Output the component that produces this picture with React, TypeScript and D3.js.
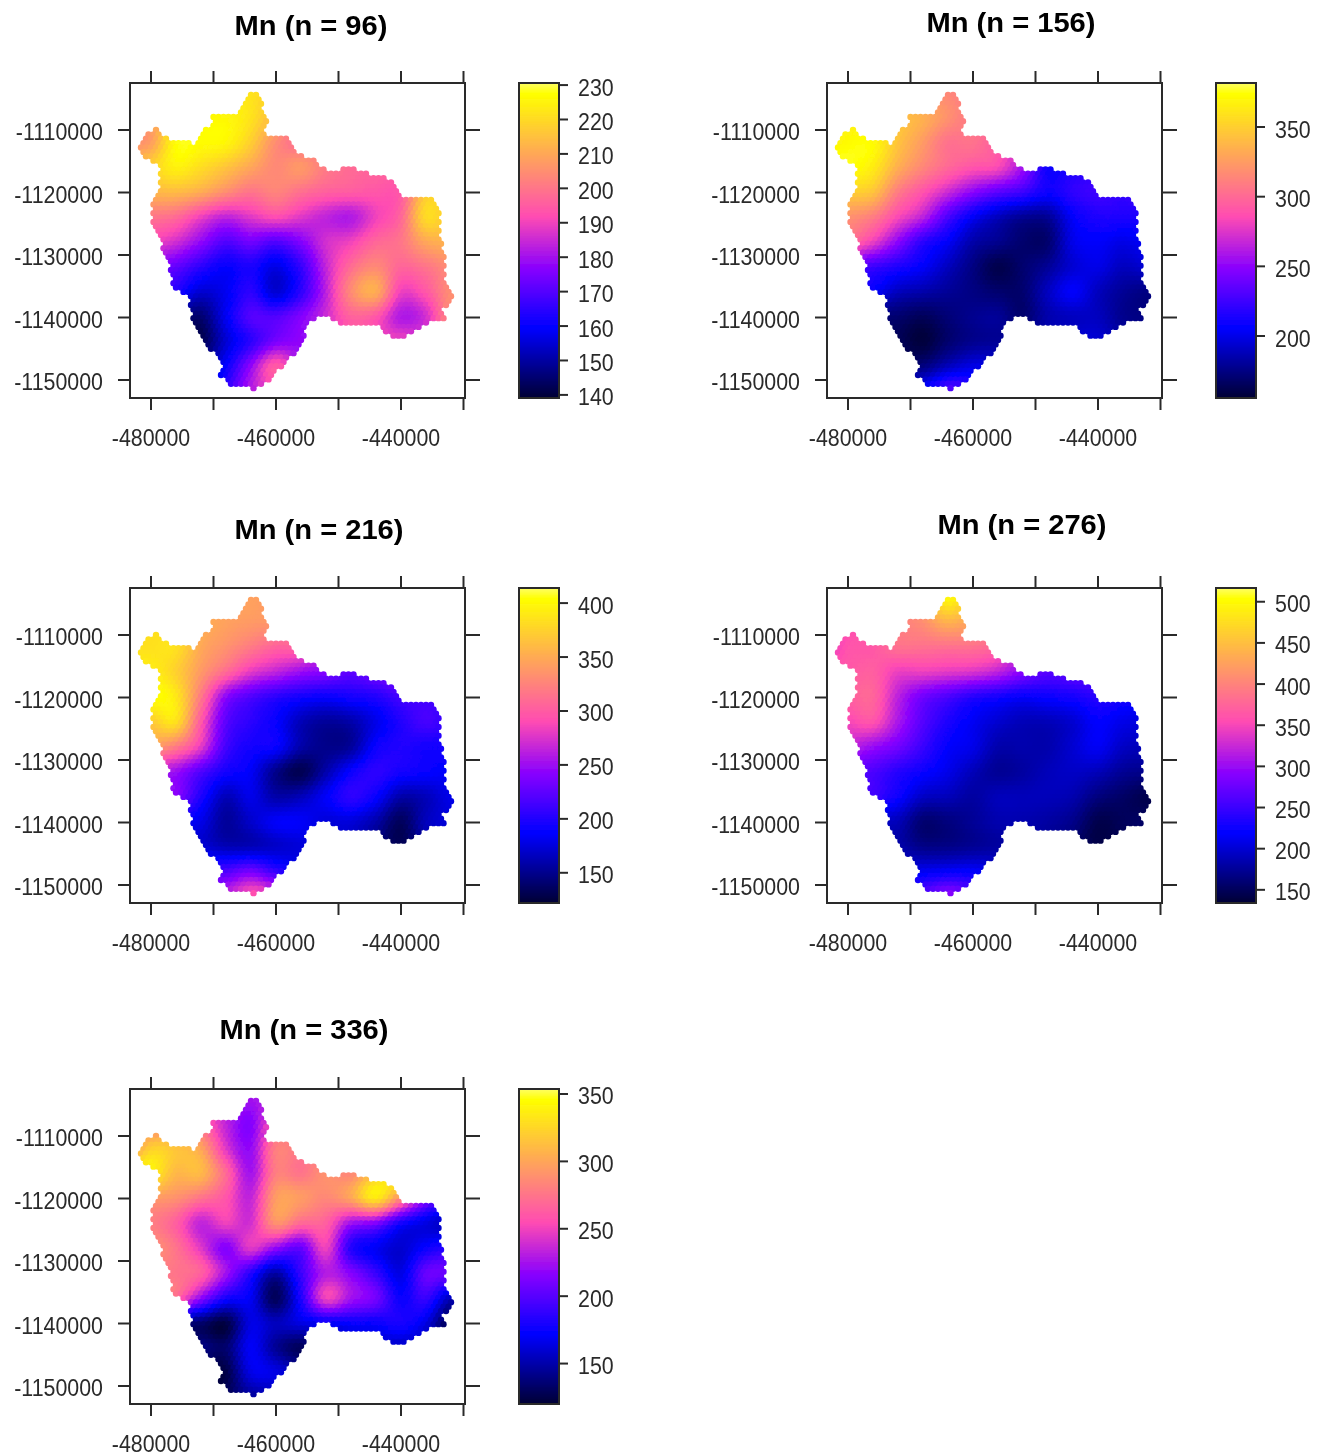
import React from "react";
import * as d3 from "d3";

// Value grid nodes (metres)
const gridX = [-484000,-480000,-476000,-472000,-468000,-464000,-460000,-456000,-452000,-448000,-444000,-440000,-436000,-432000,-428000];
const gridY = [-1104000,-1108000,-1112000,-1116000,-1120000,-1124000,-1128000,-1132000,-1136000,-1140000,-1144000,-1148000,-1152000];

const mn96 = [
[208,208,218,222,222,222,215,205,200,200,200,200,200,200,200],
[206,208,224,226,226,222,212,202,198,198,198,198,198,198,198],
[206,208,227,227,226,218,205,198,198,198,198,198,200,200,200],
[215,218,225,221,216,210,204,207,201,198,197,198,205,212,212],
[213,213,214,211,205,200,203,199,196,195,194,195,216,215,215],
[200,200,198,190,184,188,192,188,184,182,190,197,220,215,215],
[190,190,186,178,170,174,170,176,186,190,197,200,210,212,212],
[175,175,172,165,160,163,157,166,184,198,204,197,200,205,205],
[165,165,163,155,158,165,155,165,183,204,211,190,194,205,205],
[150,150,148,145,158,170,170,176,185,196,194,182,186,205,205],
[145,145,143,142,155,165,175,178,182,190,190,190,190,200,200],
[150,150,150,150,160,178,195,180,180,185,185,185,185,190,190],
[160,160,160,160,165,182,190,180,180,180,180,180,180,180,180],
];
const mn156 = [
[360,360,345,330,320,315,305,290,260,220,220,220,220,220,220],
[365,365,355,345,335,320,305,290,260,220,220,220,220,220,220],
[365,372,372,345,325,305,305,290,255,215,215,220,220,220,220],
[375,375,365,335,315,300,290,285,255,210,215,220,222,225,225],
[350,350,345,310,290,270,250,235,225,210,220,225,222,225,225],
[320,320,310,285,265,230,205,190,180,180,205,215,215,215,215],
[300,300,280,250,220,205,185,178,170,170,200,205,200,205,205],
[235,235,225,215,205,190,175,162,170,180,195,200,190,195,195],
[210,210,205,190,185,180,175,170,170,190,205,190,180,175,175],
[175,175,172,170,165,172,178,180,170,185,190,190,178,175,175],
[170,170,168,165,158,170,178,180,180,190,195,195,185,180,180],
[180,180,178,175,175,190,200,200,195,195,195,195,190,185,185],
[210,210,210,210,210,235,225,215,210,205,200,195,190,185,185],
];
const mn216 = [
[385,385,370,350,345,345,335,320,280,240,240,240,240,240,240],
[385,385,380,355,345,340,335,310,270,235,235,235,235,235,235],
[385,385,385,350,335,320,305,300,260,230,235,240,240,240,240],
[395,395,375,340,310,280,265,250,240,225,235,240,225,220,220],
[405,405,390,320,245,220,205,195,190,195,200,215,215,210,210],
[370,370,385,300,225,205,190,165,155,160,180,200,215,205,205],
[340,340,320,280,215,195,190,160,150,155,190,200,195,195,195],
[255,255,250,220,195,185,150,132,160,190,205,195,190,185,185],
[245,245,240,200,165,180,160,165,185,205,190,160,165,180,180],
[190,190,185,180,155,170,185,185,175,175,160,135,165,175,175],
[180,180,178,175,165,165,170,175,175,170,150,135,160,170,170],
[225,225,222,220,220,235,210,190,180,175,165,160,165,170,170],
[270,270,270,270,270,300,290,260,220,190,180,170,170,170,170],
];
const mn276 = [
[365,365,380,400,430,500,440,380,320,270,270,270,270,270,270],
[345,355,370,395,410,440,420,380,320,270,270,270,270,270,270],
[330,360,365,385,385,385,385,370,310,265,265,270,270,270,270],
[365,365,370,345,345,340,335,320,290,265,270,270,240,225,225],
[370,370,375,320,280,260,240,230,220,225,230,240,230,220,220],
[350,350,360,310,265,235,215,200,190,190,200,220,210,205,205],
[320,320,300,280,250,220,210,185,185,185,200,215,195,190,190],
[265,265,260,240,225,210,190,175,180,190,195,190,175,170,170],
[255,255,250,225,195,190,180,190,190,190,185,165,155,145,145],
[195,195,192,190,160,165,175,185,185,180,170,145,150,155,155],
[190,190,188,185,170,170,175,180,180,175,160,145,150,155,155],
[225,225,220,215,215,220,220,210,200,190,180,170,165,165,165],
[270,270,270,270,270,300,270,240,220,200,190,180,170,170,170],
];
const mn336 = [
[280,280,270,270,240,225,240,265,270,270,270,270,270,270,270],
[280,280,275,270,235,215,265,270,270,270,270,270,270,270,270],
[280,320,315,300,245,220,280,275,280,280,285,300,290,280,280],
[340,340,310,310,270,225,280,275,290,285,315,330,250,220,220],
[295,295,290,275,260,235,295,295,285,300,335,285,220,190,190],
[280,280,265,235,250,240,290,270,265,225,215,180,165,155,155],
[290,290,275,245,215,245,220,205,250,185,170,160,175,185,185],
[280,280,275,265,225,185,150,190,230,215,190,165,205,205,205],
[270,270,265,220,180,170,130,180,250,225,210,175,190,155,155],
[140,140,138,135,125,165,155,165,170,175,175,180,165,125,125],
[140,140,140,140,135,170,145,130,140,150,155,155,150,140,140],
[125,125,125,125,125,165,165,150,145,150,150,150,150,150,150],
[130,130,130,130,130,145,150,150,150,150,150,150,150,150,150],
];

// Region outline (thousands of metres)
const outlineX = [-482.4,-481.4,-479.1,-477.8,-476.9,-473.9,-473.3,-472.2,-470.9,-470.6,-466.4,-465.7,-463.4,-461.4,-461.8,-460.6,-461.4,-457.8,-456.9,-453.9,-450.9,-448,-444.1,-440.8,-439.5,-435.9,-433.6,-433.4,-432.6,-432.6,-430.6,-432.9,-431.9,-434.9,-436.9,-439.8,-441.4,-444.1,-450,-451.3,-453.4,-454.9,-454.6,-460.5,-463.7,-467.4,-469.4,-469,-470.1,-473.3,-474.2,-474.6,-476.9,-477.4,-480.1,-480.2,-479,-479,-481.3];
const outlineY = [-1112.4,-1110.8,-1108.8,-1110.8,-1111.3,-1111.5,-1111.9,-1110.5,-1108.9,-1107.3,-1107.2,-1105.2,-1103.3,-1105.4,-1107.3,-1108.1,-1110.3,-1110.3,-1112.9,-1114.4,-1116.4,-1115.4,-1117,-1117.4,-1120.7,-1120.3,-1121.5,-1125.5,-1130.3,-1134.4,-1136.5,-1138.6,-1140.5,-1141,-1141.9,-1143.7,-1143.5,-1141.6,-1142,-1140.2,-1140.4,-1141.7,-1143.3,-1150,-1151.9,-1151.1,-1149.2,-1147.3,-1146,-1142,-1138.8,-1136.5,-1135.2,-1131.9,-1125,-1122,-1119.1,-1116.1,-1114.3];

const titles = ["Mn (n = 96)","Mn (n = 156)","Mn (n = 216)","Mn (n = 276)","Mn (n = 336)"];
const grids = [mn96,mn156,mn216,mn276,mn336];
const limits = [[139.1,230.6],[155.5,381.6],[122,414],[134,516.7],[120,353.7]];
const barTicks = [
  [140,150,160,170,180,190,200,210,220,230],
  [200,250,300,350],
  [150,200,250,300,350,400],
  [150,200,250,300,350,400,450,500],
  [150,200,250,300,350],
];
const xTicks = [-480000,-470000,-460000,-450000,-440000,-430000];
const xLabelled = [-480000,-460000,-440000];
const yTicks = [-1110000,-1120000,-1130000,-1140000,-1150000];

// layout
const offsets = [[0,0],[697,0],[0,505],[697,505],[0,1006]];
const titlePos = [[311,35],[1011,32],[319,539],[1022,534],[304,1039]];
const FONT = "'Liberation Sans', Arial, sans-serif";

// bpy.colors palette (sp package) with cutoff.tails = 0.1
function bpy(t: number) {
  const i = 0.05 + 0.9 * t;
  const r = i < .25 ? 0 : i < .57 ? i / .32 - .78125 : 1;
  const g = i < .42 ? 0 : i < .92 ? 2 * i - .84 : 1;
  const b = i < .25 ? 4 * i : i < .42 ? 1 : i < .92 ? -2 * i + 1.84 : i / .08 - 11.5;
  return d3.rgb(r * 255, g * 255, b * 255).formatRgb();
}

const cr = (a: number, b: number, c: number, d: number, t: number) =>
  0.5 * (2 * b + (c - a) * t + (2 * a - 5 * b + 4 * c - d) * t * t + (3 * b - a - 3 * c + d) * t * t * t);

function sample(g: number[][], x: number, y: number) {
  const fx = (x - gridX[0]) / (gridX[1] - gridX[0]);
  const fy = (y - gridY[0]) / (gridY[1] - gridY[0]);
  const cx = Math.floor(fx), cy = Math.floor(fy);
  const tx = fx - cx, ty = fy - cy;
  const row = (r: number) => g[Math.max(0, Math.min(g.length - 1, r))];
  const at = (r: number[], c: number) => r[Math.max(0, Math.min(r.length - 1, c))];
  const v = [-1, 0, 1, 2].map((dy) => {
    const r = row(cy + dy);
    return cr(at(r, cx - 1), at(r, cx), at(r, cx + 1), at(r, cx + 2), tx);
  });
  return cr(v[0], v[1], v[2], v[3], ty);
}

const poly: [number, number][] = outlineX.map((x, i) => [x * 1000, outlineY[i] * 1000]);
const STEP = 800;
const ROW = 700;
const inset = 470;
const lattice: [number, number][] = [];
d3.range(-1103000, -1153000, -ROW).forEach((y, ri) => {
  d3.range(-484000 + (ri % 2 ? STEP / 2 : 0), -429000, STEP).forEach((x) => {
    const ok = [[0,0],[inset,0],[-inset,0],[0,inset],[0,-inset]].every(([a, b]) =>
      d3.polygonContains(poly, [x + a, y + b]));
    if (ok) lattice.push([x, y]);
  });
});

const BOX_W = 335, BOX_H = 315, BOX_L = 130, BOX_T = 83, BAR_L = 519, BAR_W = 40;
const INK = "#2b2b2b";

function Label({ x, y, anchor, children }: { x: number; y: number; anchor?: "start" | "middle" | "end"; children: React.ReactNode }) {
  return (
    <text transform={`translate(${x},${y}) scale(0.91,1)`} textAnchor={anchor ?? "start"} fontFamily={FONT} fontSize={23.5} fill={INK}>
      {children}
    </text>
  );
}

function Panel({ index }: { index: number }) {
  const [ox, oy] = offsets[index];
  const L = BOX_L + ox, T = BOX_T + oy, R = L + BOX_W, B = T + BOX_H;
  const x = d3.scaleLinear().domain([-483360, -429760]).range([L, R]);
  const y = d3.scaleLinear().domain([-1102480, -1152880]).range([T, B]);
  const [lo, hi] = limits[index];
  const color = d3.scaleSequential(bpy).domain([lo, hi]).clamp(true);
  const barY = d3.scaleLinear().domain([lo, hi]).range([B, T]);
  const bl = BAR_L + ox;
  const steps = d3.range(0, 315);
  return (
    <g>
      <g filter="url(#soft)">
        {lattice.map(([px, py], i) => (
          <circle key={i} cx={x(px)} cy={y(py)} r={3.2} fill={color(sample(grids[index], px, py))} />
        ))}
      </g>
      <g filter="url(#softer)">
      <rect x={L} y={T} width={BOX_W} height={BOX_H} fill="none" stroke={INK} strokeWidth={2} />
      {xTicks.map((t) => (
        <g key={t} stroke={INK} strokeWidth={2}>
          <line x1={x(t)} x2={x(t)} y1={T - 12} y2={T} />
          <line x1={x(t)} x2={x(t)} y1={B} y2={B + 12} />
        </g>
      ))}
      {yTicks.map((t) => (
        <g key={t} stroke={INK} strokeWidth={2}>
          <line x1={L - 12} x2={L} y1={y(t)} y2={y(t)} />
          <line x1={R} x2={R + 15} y1={y(t)} y2={y(t)} />
        </g>
      ))}
      {xLabelled.map((t) => (
        <Label key={t} x={x(t)} y={B + 47.5} anchor="middle">{String(t)}</Label>
      ))}
      {yTicks.map((t) => (
        <Label key={t} x={L - 27} y={y(t) + 10} anchor="end">{String(t)}</Label>
      ))}
      {steps.map((s) => {
        const a = lo + (hi - lo) * s / 315, b = lo + (hi - lo) * (s + 1) / 315;
        return <rect key={s} x={bl} width={BAR_W} y={barY(b)} height={barY(a) - barY(b) + 0.6} fill={color((a + b) / 2)} />;
      })}
      <rect x={bl} y={T} width={BAR_W} height={BOX_H} fill="none" stroke={INK} strokeWidth={2} />
      {barTicks[index].map((t) => (
        <g key={t}>
          <line x1={bl + BAR_W} x2={bl + BAR_W + 9} y1={barY(t)} y2={barY(t)} stroke={INK} strokeWidth={2} />
          <Label x={bl + BAR_W + 19} y={barY(t) + 10.5}>{t}</Label>
        </g>
      ))}
      <text transform={`translate(${titlePos[index][0]},${titlePos[index][1]}) scale(1.04,1)`} textAnchor="middle" fontFamily={FONT} fontSize={28} fontWeight="bold" fill="#000">{titles[index]}</text>
      </g>
    </g>
  );
}

export default function App() {
  return (
    <svg width={1328} height={1456} viewBox="0 0 1328 1456" style={{ position: "absolute", left: 0, top: 0, background: "#fff" }}>
      <defs>
        <filter id="soft" x="-5%" y="-5%" width="110%" height="110%"><feGaussianBlur stdDeviation="0.7" /></filter>
        <filter id="softer" x="-5%" y="-5%" width="110%" height="110%"><feGaussianBlur stdDeviation="0.5" /></filter>
      </defs>
      {titles.map((_, i) => <Panel key={i} index={i} />)}
    </svg>
  );
}
